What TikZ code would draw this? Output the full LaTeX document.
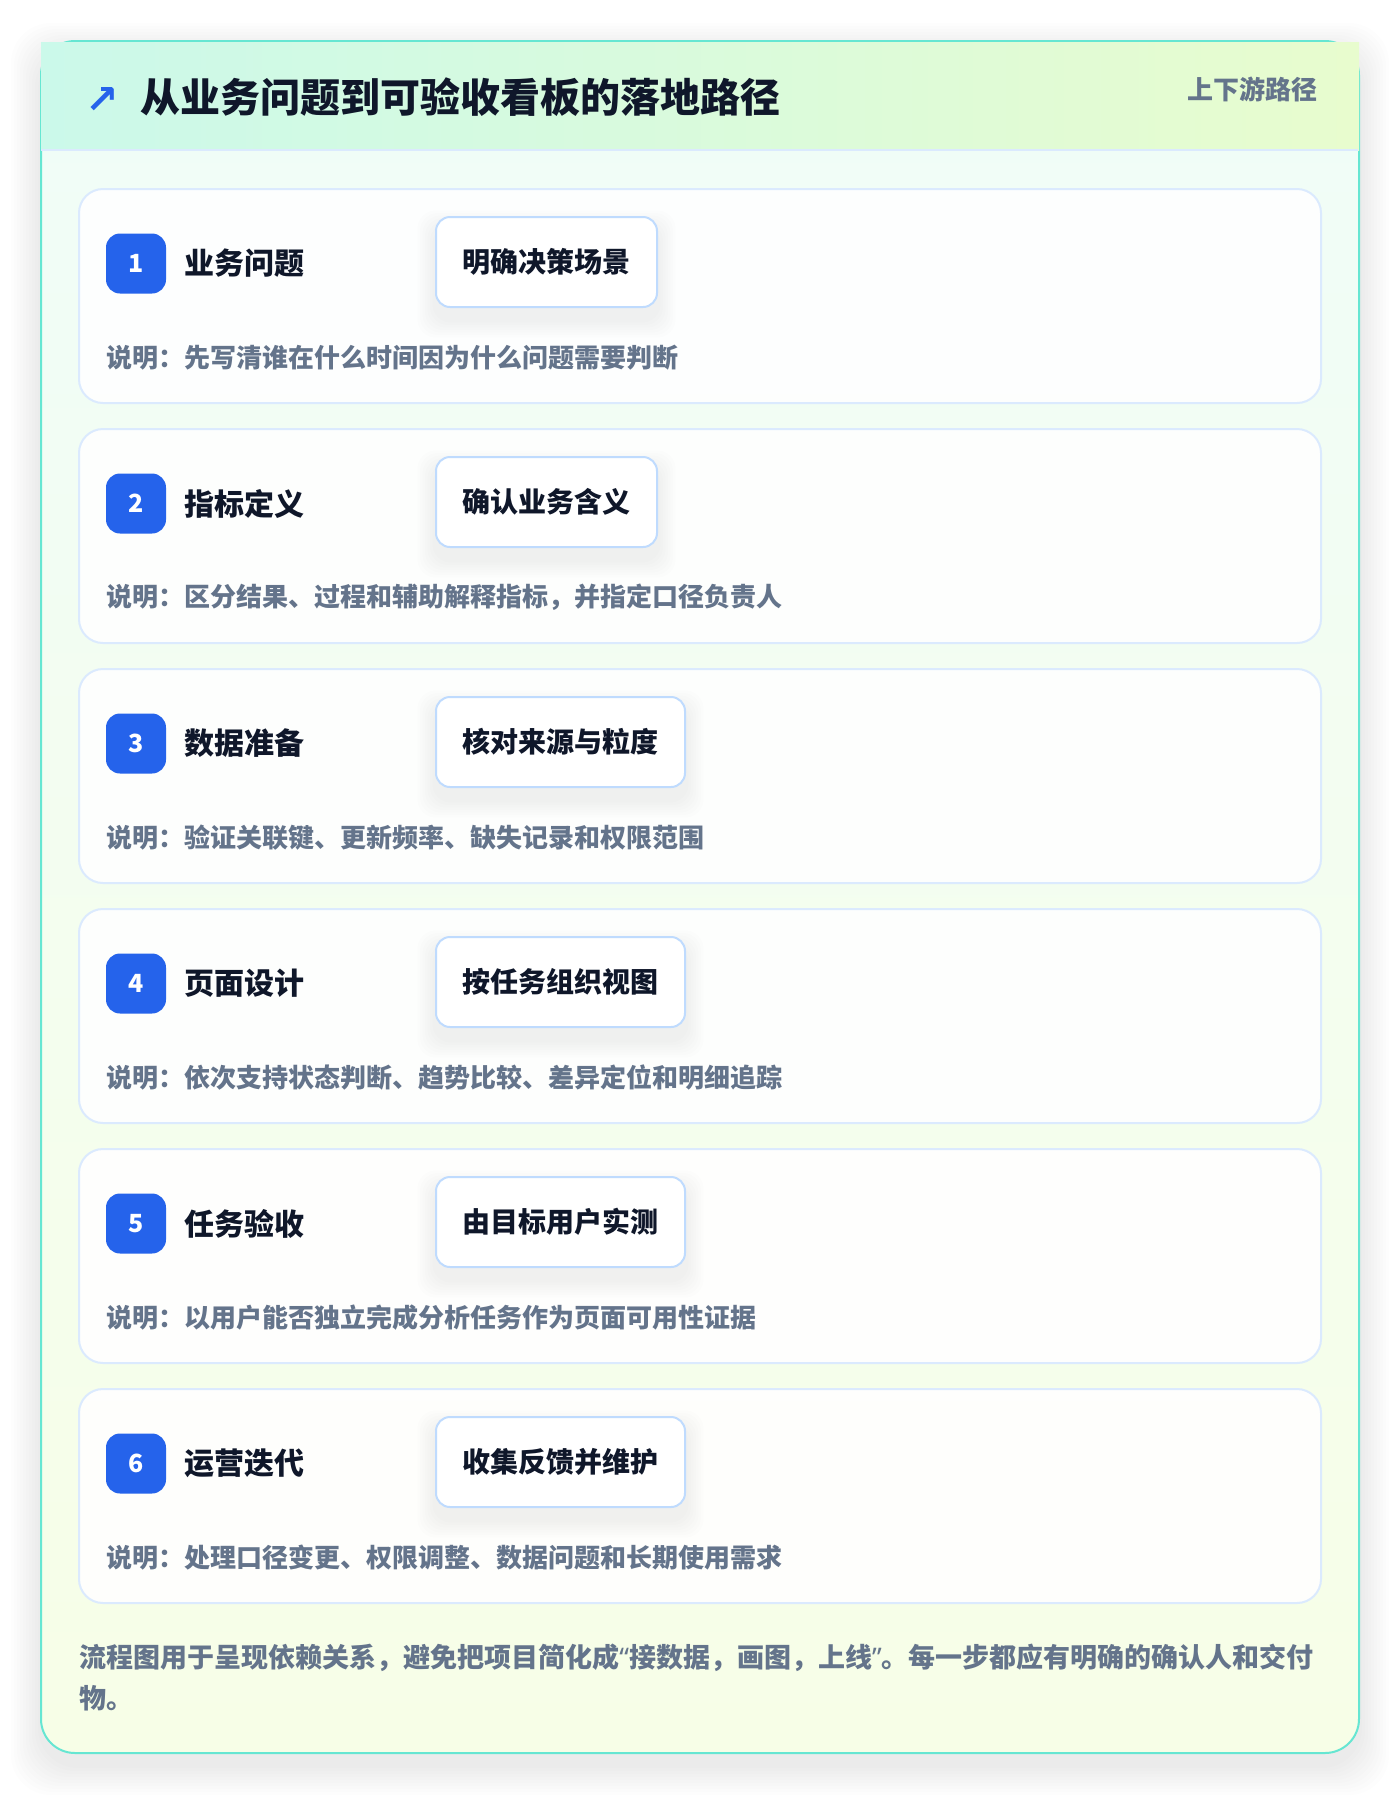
\documentclass[tikz,border=0pt]{standalone}
\usepackage{fontspec}
\setmainfont{Noto Sans CJK SC}
\newfontfamily\symfont{DejaVu Sans}
\newfontfamily\quotefont{Noto Sans}
\usetikzlibrary{positioning}
\pgfdeclarelayer{background}
\pgfdeclarelayer{shade}
\pgfsetlayers{background,shade,main}
\definecolor{ink}{HTML}{0F172A}
\definecolor{slate}{HTML}{64748B}
\definecolor{badgeblue}{HTML}{2563EB}
\definecolor{cardline}{HTML}{DBEAFE}
\definecolor{tagline}{HTML}{BFDBFE}
\definecolor{rim}{HTML}{66E6D2}
\definecolor{headl}{HTML}{CBF9EA}
\definecolor{headr}{HTML}{E8FCCE}
\definecolor{bodytop}{HTML}{F0FDF8}
\definecolor{bodybot}{HTML}{F7FEE7}
\begin{document}
\begin{tikzpicture}[x=0.5pt,y=-0.5pt,
  cardbox/.style={draw=cardline,line width=1pt,fill=white,fill opacity=0.9,rounded corners=12pt,
    minimum width=621pt,minimum height=107pt,inner sep=0pt},
  badge/.style={fill=badgeblue,text=white,rounded corners=7pt,minimum size=30pt,inner sep=0pt,
    font=\bfseries\fontsize{12.5}{12.5}\selectfont},
  steptitle/.style={anchor=west,inner sep=0pt,text=ink,font=\bfseries\fontsize{15}{15}\selectfont},
  tagbox/.style={anchor=west,draw=tagline,line width=1pt,fill=white,rounded corners=7pt,
    minimum height=45pt,inner xsep=13.25pt,text=ink,font=\bfseries\fontsize{14}{14}\selectfont},
  note/.style={anchor=west,inner sep=0pt,text=slate,font=\bfseries\fontsize{13}{13}\selectfont}]
\useasboundingbox (0,0) rectangle (1400,1796);
\begin{pgfonlayer}{background}
\fill[white] (0,0) rectangle (1400,1796);
\foreach \k in {1,...,10}
  \fill[black!80!blue,opacity=0.007,rounded corners=20pt]
    ({41-3*\k},{53-3*\k}) rectangle ({1359+3*\k},{1765+3*\k});
\shade[top color=bodytop,bottom color=bodybot,rounded corners=17pt] (41,41) rectangle (1359,1753);
\draw[rim,line width=1pt,rounded corners=17pt] (41,41) rectangle (1359,1753);
\shade[left color=headl,right color=headr] (41,42.5) rectangle (1359,150);
\draw[cardline,line width=1pt] (41,150) -- (1358,150);
\end{pgfonlayer}
\node[text=badgeblue,inner sep=0pt,font=\symfont\bfseries\fontsize{20}{20}\selectfont] (icon) at (102,100) {↗};
\node[anchor=west,inner sep=0pt,text=ink,font=\bfseries\fontsize{20}{20}\selectfont] (title) at (140,97) {从业务问题到可验收看板的落地路径};
\node[anchor=east,inner sep=0pt,text=slate,font=\bfseries\fontsize{13}{13}\selectfont] (pathtag) at (1318,89) {上下游路径};
\foreach \i/\stepname/\steptag/\stepnote in {
  1/业务问题/明确决策场景/先写清谁在什么时间因为什么问题需要判断,
  2/指标定义/确认业务含义/区分结果、过程和辅助解释指标，并指定口径负责人,
  3/数据准备/核对来源与粒度/验证关联键、更新频率、缺失记录和权限范围,
  4/页面设计/按任务组织视图/依次支持状态判断、趋势比较、差异定位和明细追踪,
  5/任务验收/由目标用户实测/以用户能否独立完成分析任务作为页面可用性证据,
  6/运营迭代/收集反馈并维护/处理口径变更、权限调整、数据问题和长期使用需求}{
  \pgfmathsetmacro\top{189+240*(\i-1)}
  \begin{pgfonlayer}{background}
  \node[cardbox] (card\i) at (700,\top+107) {};
  \end{pgfonlayer}
  \node[badge] (badge\i) at (136,\top+74.5) {\i};
  \node[steptitle] (name\i) at (184.5,\top+74.5) {\stepname};
  \node[tagbox] (tag\i) at (435,\top+73) {\steptag};
  \node[note] (note\i) at (106.5,\top+168.5) {说明：\stepnote};
  \begin{pgfonlayer}{shade}
  \foreach \k in {1,...,7}
    \fill[black!70!blue,opacity=0.009,rounded corners=9pt]
      ([shift={(-2.5*\k,12-2.5*\k)}]tag\i.north west) rectangle ([shift={(2.5*\k,12+2.5*\k)}]tag\i.south east);
  \end{pgfonlayer}
}
\node[anchor=west,align=left,inner sep=0pt,text=slate,font=\bfseries\fontsize{13.5}{20.5}\selectfont] (summary) at (79,1677)
  {流程图用于呈现依赖关系，避免把项目简化成{\quotefont\bfseries “}接数据，画图，上线{\quotefont\bfseries ”}。每一步都应有明确的确认人和交付\\物。};
\end{tikzpicture}
\end{document}
